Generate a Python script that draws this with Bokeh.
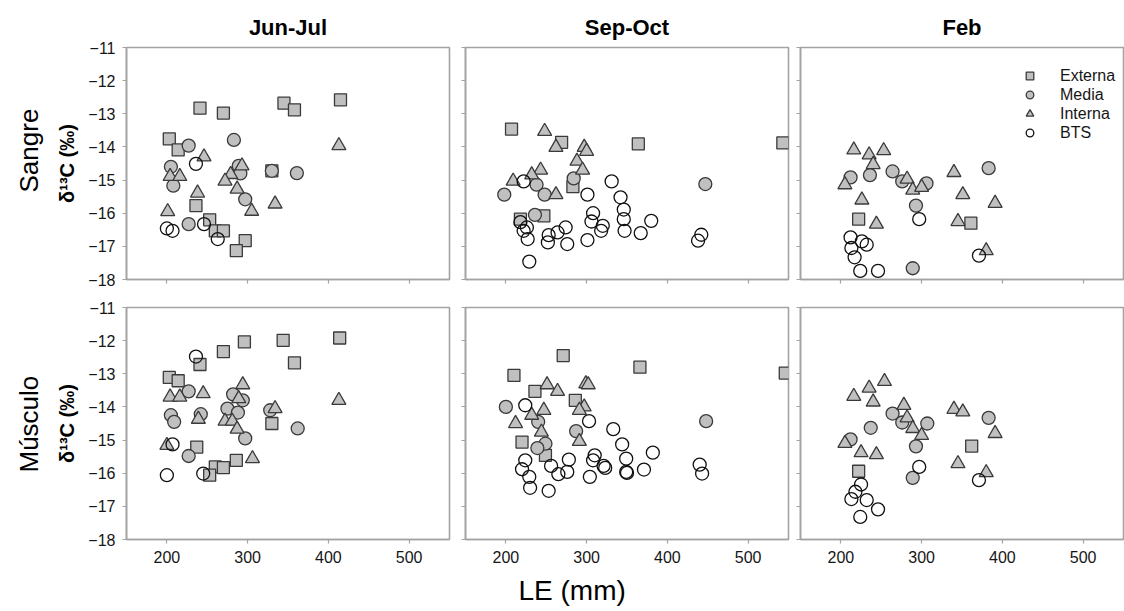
from bokeh.plotting import figure
from bokeh.layouts import column, row
from bokeh.models import Range1d, Title, Legend, LegendItem, FixedTicker, CustomJSTickFormatter
from bokeh.embed import file_html
from bokeh.resources import INLINE

# ---------------- data (LE in mm, delta13C in per mil) ----------------
seasons = ["Jun-Jul", "Sep-Oct", "Feb"]
tissues = ["Sangre", "Músculo"]
groups = ["Externa", "Media", "Interna", "BTS"]
x_ticks = [200, 300, 400, 500]
y_ticks = [-18, -17, -16, -15, -14, -13, -12, -11]

# Sangre, Jun-Jul
sj_ext_x = [241, 270, 345, 358, 415, 203, 214, 330, 236, 253, 260, 270, 297, 286]
sj_ext_y = [-12.83, -12.98, -12.68, -12.88, -12.58, -13.76, -14.09, -14.72, -15.77, -16.2, -16.53, -16.53, -16.83, -17.13]
sj_med_x = [227, 283, 205, 289, 330, 361, 208, 297, 227, 291]
sj_med_y = [-13.96, -13.79, -14.6, -14.57, -14.72, -14.79, -15.17, -15.58, -16.33, -14.8]
sj_int_x = [413, 246, 204, 216, 293, 279, 272, 287, 238, 334, 305, 201]
sj_int_y = [-13.96, -14.3, -14.89, -14.89, -14.57, -14.83, -15.03, -15.27, -15.39, -15.72, -15.94, -15.95]
sj_bts_x = [236, 200, 207, 246, 263]
sj_bts_y = [-14.51, -16.46, -16.53, -16.33, -16.78]

# Sangre, Sep-Oct
ss_ext_x = [207, 269, 364, 543, 283, 218, 247]
ss_ext_y = [-13.46, -13.86, -13.91, -13.88, -15.2, -16.18, -16.08]
ss_med_x = [198, 238, 248, 284, 236, 447]
ss_med_y = [-15.44, -15.14, -15.44, -14.95, -16.05, -15.12]
ss_int_x = [248, 262, 297, 300, 288, 295, 243, 232, 209, 262]
ss_int_y = [-13.53, -14.01, -14.01, -14.13, -14.43, -14.7, -14.7, -14.84, -15.03, -15.44]
ss_bts_x = [222, 331, 301, 342, 346, 346, 347, 308, 306, 320, 318, 380, 367, 274, 264, 253, 252, 276, 301,
            218, 222, 226, 227, 229, 442, 438]
ss_bts_y = [-15.04, -15.04, -15.44, -15.52, -15.89, -16.18, -16.53, -16.0, -16.25, -16.38, -16.53, -16.23, -16.6,
            -16.43, -16.58, -16.66, -16.88, -16.93, -16.81, -16.27, -16.53, -16.43, -16.78, -17.46, -16.65, -16.83]

# Sangre, Feb
sf_ext_x = [222, 361]
sf_ext_y = [-16.18, -16.3]
sf_med_x = [212, 236, 264, 276, 306, 293, 383, 289]
sf_med_y = [-14.92, -14.85, -14.74, -15.04, -15.1, -15.77, -14.64, -17.66]
sf_int_x = [216, 235, 253, 240, 205, 226, 244, 282, 289, 300, 340, 351, 391, 345, 380]
sf_int_y = [-14.09, -14.24, -14.11, -14.53, -15.14, -15.6, -16.33, -14.97, -15.3, -15.22, -14.77, -15.44, -15.7, -16.25, -17.13]
sf_bts_x = [297, 212, 226, 232, 213, 217, 224, 246, 371]
sf_bts_y = [-16.18, -16.73, -16.85, -16.95, -17.05, -17.33, -17.74, -17.74, -17.28]

# Musculo, Jun-Jul
mj_ext_x = [241, 270, 296, 344, 414, 358, 203, 214, 330, 237, 260, 270, 253, 286]
mj_ext_y = [-12.72, -12.33, -12.04, -11.99, -11.92, -12.67, -13.11, -13.21, -14.5, -15.21, -15.81, -15.83, -16.06, -15.61]
mj_med_x = [227, 282, 294, 275, 288, 205, 209, 242, 328, 362, 297, 227]
mj_med_y = [-13.53, -13.62, -13.8, -14.05, -14.17, -14.25, -14.45, -14.22, -14.1, -14.65, -14.95, -15.48]
mj_int_x = [294, 413, 204, 216, 245, 289, 334, 239, 272, 281, 287, 200, 306]
mj_int_y = [-13.33, -13.8, -13.7, -13.7, -13.6, -13.75, -14.05, -14.37, -14.43, -14.43, -14.67, -15.16, -15.56]
mj_bts_x = [236, 207, 200, 245]
mj_bts_y = [-12.48, -15.13, -16.06, -16.01]

# Musculo, Sep-Oct
ms_ext_x = [210, 271, 366, 546, 236, 286, 220, 249]
ms_ext_y = [-13.05, -12.45, -12.8, -12.98, -13.53, -13.8, -15.06, -15.46]
ms_med_x = [200, 240, 287, 249, 239, 448]
ms_med_y = [-14.0, -14.45, -14.73, -15.11, -15.24, -14.43]
ms_int_x = [251, 264, 299, 302, 247, 232, 297, 291, 212, 244, 291]
ms_int_y = [-13.33, -13.53, -13.3, -13.33, -14.1, -14.25, -14.0, -14.1, -14.5, -14.76, -15.04]
ms_bts_x = [224, 303, 333, 344, 349, 349, 350, 382, 371, 310, 308, 321, 323, 304, 278, 276, 265, 256, 224, 220,
            229, 230, 253, 440, 443]
ms_bts_y = [-13.95, -14.43, -14.67, -15.13, -15.56, -15.96, -15.99, -15.38, -15.89, -15.46, -15.61, -15.78, -15.84,
            -16.11, -15.59, -15.96, -16.03, -15.78, -15.61, -15.88, -16.11, -16.44, -16.53, -15.74, -16.01]

# Musculo, Feb
mf_ext_x = [222, 362]
mf_ext_y = [-15.94, -15.18]
mf_med_x = [237, 264, 276, 307, 212, 293, 289, 383]
mf_med_y = [-14.63, -14.2, -14.47, -14.5, -14.98, -15.19, -16.14, -14.33]
mf_int_x = [216, 235, 254, 240, 278, 282, 289, 300, 205, 225, 244, 340, 351, 391, 345, 380]
mf_int_y = [-13.68, -13.43, -13.23, -13.85, -13.95, -14.33, -14.65, -14.86, -15.1, -15.38, -15.44, -14.07, -14.15,
            -14.8, -15.71, -15.98]
mf_bts_x = [297, 225, 218, 213, 232, 246, 224, 371]
mf_bts_y = [-15.81, -16.34, -16.56, -16.78, -16.81, -17.09, -17.32, -16.21]

panel_data = [
    [[(sj_ext_x, sj_ext_y), (sj_med_x, sj_med_y), (sj_int_x, sj_int_y), (sj_bts_x, sj_bts_y)],
     [(ss_ext_x, ss_ext_y), (ss_med_x, ss_med_y), (ss_int_x, ss_int_y), (ss_bts_x, ss_bts_y)],
     [(sf_ext_x, sf_ext_y), (sf_med_x, sf_med_y), (sf_int_x, sf_int_y), (sf_bts_x, sf_bts_y)]],
    [[(mj_ext_x, mj_ext_y), (mj_med_x, mj_med_y), (mj_int_x, mj_int_y), (mj_bts_x, mj_bts_y)],
     [(ms_ext_x, ms_ext_y), (ms_med_x, ms_med_y), (ms_int_x, ms_int_y), (ms_bts_x, ms_bts_y)],
     [(mf_ext_x, mf_ext_y), (mf_med_x, mf_med_y), (mf_int_x, mf_int_y), (mf_bts_x, mf_bts_y)]],
]

# ---------------- styling ----------------
FONT = "Liberation Sans"
FRAME = "#a3a3a3"
GRAY = "#c0c0c0"
EDGE = "#3a3a3a"
styles = [
    dict(marker="square", size=12, fill_color=GRAY, line_color=EDGE),
    dict(marker="circle", size=13, fill_color=GRAY, line_color=EDGE),
    dict(marker="triangle", size=14, fill_color=GRAY, line_color=EDGE),
    dict(marker="circle", size=13, fill_color=None, line_color="#111111"),
]

borders_lr = [(126, 8), (8, 6), (6, 1)]
borders_tb = [(47, 14), (14, 72)]
row_label_offset = [87, 67]


def hide_labels(ax):
    ax.formatter = CustomJSTickFormatter(code="return ''")
    ax.major_label_text_font_size = "0px"
    ax.major_label_standoff = 0


figs = []
for r in range(2):
    row_figs = []
    for c in range(3):
        bl, br = borders_lr[c]
        bt, bb = borders_tb[r]
        p = figure(frame_width=323, frame_height=232,
                   x_range=Range1d(150, 550), y_range=Range1d(-18, -11),
                   output_backend="svg", toolbar_location=None, title=None,
                   min_border_left=bl, min_border_right=br,
                   min_border_top=bt, min_border_bottom=bb,
                   background_fill_color="white", border_fill_color="white")
        p.outline_line_color = FRAME
        p.outline_line_width = 1.6
        p.xgrid.visible = False
        p.ygrid.visible = False
        for ax in (p.xaxis, p.yaxis):
            ax.axis_line_color = FRAME
            ax.axis_line_width = 1.6
            ax.major_tick_line_color = FRAME
            ax.major_tick_line_width = 1.2
            ax.major_tick_out = 4
            ax.major_tick_in = 0
            ax.minor_tick_line_color = None
            ax.major_label_text_font = FONT
            ax.major_label_text_font_size = "16px"
            ax.major_label_text_color = "#161616"
            ax.major_label_standoff = 7
        p.xaxis.ticker = FixedTicker(ticks=x_ticks)
        p.yaxis.ticker = FixedTicker(ticks=y_ticks)
        if r == 0:
            hide_labels(p.xaxis)
            p.add_layout(Title(text=seasons[c], align="center", text_font=FONT,
                               text_font_size="22px", text_font_style="bold",
                               text_color="black", standoff=15), "above")
        if c > 0:
            hide_labels(p.yaxis)
        else:
            p.yaxis.axis_label = "δ¹³C (‰)"
            p.yaxis.axis_label_text_font = FONT
            p.yaxis.axis_label_text_font_size = "20px"
            p.yaxis.axis_label_text_font_style = "bold"
            p.yaxis.axis_label_text_color = "black"
            p.yaxis.axis_label_standoff = 7
            p.add_layout(Title(text=tissues[r], align="left", offset=row_label_offset[r],
                               text_font=FONT, text_font_size="26px", text_font_style="normal",
                               text_color="black", standoff=19), "left")
        rends = []
        for (xs, ys), st in zip(panel_data[r][c], styles):
            rr = p.scatter(xs, ys, marker=st["marker"], size=st["size"],
                           fill_color=st["fill_color"], line_color=st["line_color"],
                           line_width=1.3)
            rends.append(rr)
        if r == 0 and c == 2:
            legend = Legend(items=[LegendItem(label=g, renderers=[rd]) for g, rd in zip(groups, rends)],
                            location=(220, 137), orientation="vertical",
                            glyph_width=19, glyph_height=19, spacing=0,
                            label_standoff=21, padding=3, margin=0,
                            border_line_color=None, background_fill_alpha=0,
                            label_text_font=FONT, label_text_font_size="16px",
                            label_text_color="#161616", label_height=19)
            p.add_layout(legend)
        if r == 1 and c == 1:
            p.add_layout(Title(text="LE (mm)", align="left", offset=53, text_font=FONT,
                               text_font_size="28px", text_font_style="normal",
                               text_color="black", standoff=15), "below")
        row_figs.append(p)
    figs.append(row_figs)

layout = column(row(*figs[0]), row(*figs[1]))
open("out.html", "w").write(file_html(layout, INLINE))
